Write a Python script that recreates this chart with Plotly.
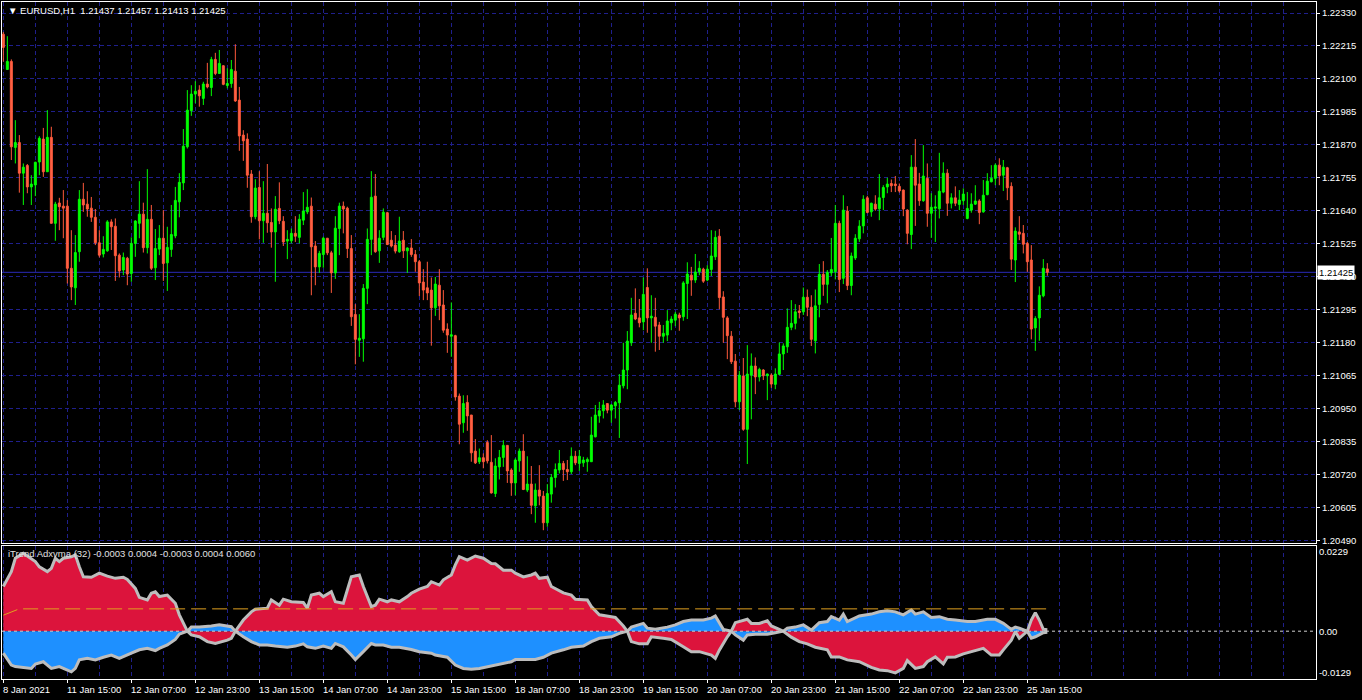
import plotly.graph_objects as go

# ---------------- data: EURUSD H1 candles ----------------
open_ = [1.22256, 1.22133, 1.22161, 1.21861, 1.21878, 1.21771, 1.21798, 1.21723, 1.21730, 1.21810,
         1.21890, 1.21776, 1.21896, 1.21596, 1.21667, 1.21656, 1.21656, 1.21439, 1.21371, 1.21497,
         1.21680, 1.21663, 1.21649, 1.21617, 1.21528, 1.21489, 1.21500, 1.21601, 1.21586, 1.21485,
         1.21433, 1.21474, 1.21421, 1.21526, 1.21596, 1.21628, 1.21511, 1.21610, 1.21441, 1.21506,
         1.21544, 1.21458, 1.21505, 1.21552, 1.21671, 1.21737, 1.21863, 1.21989, 1.22047, 1.22061,
         1.22032, 1.22082, 1.22070, 1.22168, 1.22119, 1.22146, 1.22077, 1.22084, 1.22127, 1.22026,
         1.21904, 1.21890, 1.21768, 1.21619, 1.21721, 1.21605, 1.21631, 1.21599, 1.21566, 1.21648,
         1.21603, 1.21534, 1.21535, 1.21561, 1.21547, 1.21607, 1.21636, 1.21656, 1.21517, 1.21444,
         1.21487, 1.21544, 1.21493, 1.21423, 1.21578, 1.21656, 1.21649, 1.21508, 1.21278, 1.21188,
         1.21193, 1.21369, 1.21540, 1.21691, 1.21500, 1.21547, 1.21633, 1.21537, 1.21520, 1.21497,
         1.21537, 1.21500, 1.21510, 1.21487, 1.21462, 1.21391, 1.21371, 1.21363, 1.21301, 1.21380,
         1.21311, 1.21227, 1.21202, 1.21204, 1.20993, 1.20900, 1.20971, 1.20927, 1.20801, 1.20764,
         1.20778, 1.20831, 1.20762, 1.20653, 1.20746, 1.20779, 1.20821, 1.20735, 1.20690, 1.20767,
         1.20801, 1.20665, 1.20686, 1.20610, 1.20665, 1.20644, 1.20551, 1.20651, 1.20709, 1.20735,
         1.20758, 1.20737, 1.20729, 1.20783, 1.20758, 1.20760, 1.20764, 1.20764, 1.20851, 1.20924,
         1.20942, 1.20967, 1.20944, 1.20959, 1.20970, 1.21029, 1.21084, 1.21179, 1.21282, 1.21266,
         1.21252, 1.21372, 1.21266, 1.21268, 1.21241, 1.21202, 1.21206, 1.21249, 1.21258, 1.21276,
         1.21270, 1.21386, 1.21415, 1.21398, 1.21427, 1.21436, 1.21398, 1.21435, 1.21479, 1.21551,
         1.21339, 1.21266, 1.21202, 1.21115, 1.20973, 1.21063, 1.20877, 1.21066, 1.21098, 1.21060,
         1.21084, 1.21064, 1.21066, 1.21034, 1.21069, 1.21140, 1.21165, 1.21233, 1.21247, 1.21290,
         1.21287, 1.21338, 1.21303, 1.21186, 1.21313, 1.21418, 1.21383, 1.21423, 1.21427, 1.21596,
         1.21404, 1.21639, 1.21379, 1.21475, 1.21542, 1.21587, 1.21685, 1.21636, 1.21663, 1.21647,
         1.21686, 1.21723, 1.21735, 1.21733, 1.21725, 1.21712, 1.21642, 1.21557, 1.21792, 1.21733,
         1.21675, 1.21753, 1.21631, 1.21649, 1.21647, 1.21705, 1.21771, 1.21666, 1.21685, 1.21662,
         1.21675, 1.21613, 1.21642, 1.21663, 1.21674, 1.21636, 1.21696, 1.21741, 1.21753, 1.21799,
         1.21764, 1.21790, 1.21725, 1.21468, 1.21566, 1.21561, 1.21526, 1.21468, 1.21231, 1.21266,
         1.21343, 1.21437]
high = [1.22264, 1.22249, 1.22168, 1.21956, 1.21904, 1.21805, 1.21803, 1.21764, 1.21811, 1.21900,
        1.21929, 1.21991, 1.21933, 1.21671, 1.21685, 1.21712, 1.21677, 1.21572, 1.21555, 1.21712,
        1.21737, 1.21708, 1.21688, 1.21646, 1.21572, 1.21551, 1.21607, 1.21610, 1.21613, 1.21491,
        1.21494, 1.21479, 1.21547, 1.21607, 1.21743, 1.21668, 1.21785, 1.21660, 1.21576, 1.21590,
        1.21642, 1.21584, 1.21660, 1.21723, 1.21771, 1.21925, 1.22061, 1.22078, 1.22092, 1.22078,
        1.22090, 1.22156, 1.22177, 1.22191, 1.22201, 1.22148, 1.22137, 1.22166, 1.22221, 1.22072,
        1.21921, 1.21910, 1.21782, 1.21750, 1.21778, 1.21743, 1.21803, 1.21648, 1.21691, 1.21739,
        1.21621, 1.21572, 1.21578, 1.21621, 1.21628, 1.21705, 1.21715, 1.21686, 1.21534, 1.21500,
        1.21549, 1.21545, 1.21500, 1.21621, 1.21668, 1.21672, 1.21654, 1.21555, 1.21314, 1.21279,
        1.21384, 1.21578, 1.21778, 1.21768, 1.21572, 1.21648, 1.21636, 1.21569, 1.21555, 1.21619,
        1.21569, 1.21512, 1.21541, 1.21503, 1.21468, 1.21436, 1.21462, 1.21407, 1.21409, 1.21436,
        1.21363, 1.21247, 1.21320, 1.21207, 1.21002, 1.20996, 1.20996, 1.20927, 1.20843, 1.20810,
        1.20793, 1.20839, 1.20857, 1.20776, 1.20805, 1.20839, 1.20822, 1.20741, 1.20776, 1.20810,
        1.20860, 1.20783, 1.20749, 1.20688, 1.20752, 1.20662, 1.20686, 1.20721, 1.20758, 1.20805,
        1.20767, 1.20770, 1.20814, 1.20802, 1.20805, 1.20781, 1.20779, 1.20921, 1.20962, 1.20973,
        1.20979, 1.20967, 1.20965, 1.20976, 1.21070, 1.21179, 1.21220, 1.21336, 1.21369, 1.21332,
        1.21407, 1.21439, 1.21345, 1.21336, 1.21252, 1.21241, 1.21293, 1.21272, 1.21287, 1.21284,
        1.21394, 1.21460, 1.21444, 1.21489, 1.21464, 1.21441, 1.21450, 1.21572, 1.21570, 1.21576,
        1.21359, 1.21272, 1.21220, 1.21140, 1.21081, 1.21126, 1.21171, 1.21142, 1.21128, 1.21092,
        1.21087, 1.21072, 1.21072, 1.21090, 1.21180, 1.21177, 1.21299, 1.21328, 1.21314, 1.21311,
        1.21372, 1.21365, 1.21345, 1.21365, 1.21454, 1.21464, 1.21433, 1.21545, 1.21660, 1.21605,
        1.21694, 1.21656, 1.21494, 1.21558, 1.21607, 1.21694, 1.21692, 1.21668, 1.21694, 1.21768,
        1.21729, 1.21755, 1.21749, 1.21761, 1.21735, 1.21714, 1.21645, 1.21834, 1.21890, 1.21772,
        1.21869, 1.21805, 1.21701, 1.21694, 1.21842, 1.21809, 1.21785, 1.21701, 1.21725, 1.21712,
        1.21718, 1.21705, 1.21701, 1.21729, 1.21680, 1.21747, 1.21771, 1.21799, 1.21805, 1.21823,
        1.21817, 1.21793, 1.21739, 1.21582, 1.21621, 1.21590, 1.21531, 1.21520, 1.21272, 1.21376,
        1.21471, 1.21457]
low = [1.22160, 1.22131, 1.21817, 1.21805, 1.21703, 1.21660, 1.21701, 1.21660, 1.21691, 1.21764,
       1.21758, 1.21776, 1.21596, 1.21535, 1.21572, 1.21544, 1.21386, 1.21328, 1.21311, 1.21462,
       1.21636, 1.21619, 1.21601, 1.21520, 1.21477, 1.21477, 1.21497, 1.21503, 1.21395, 1.21407,
       1.21415, 1.21380, 1.21392, 1.21479, 1.21544, 1.21494, 1.21491, 1.21433, 1.21398, 1.21485,
       1.21395, 1.21360, 1.21479, 1.21544, 1.21617, 1.21712, 1.21857, 1.21971, 1.22015, 1.22003,
       1.22009, 1.22067, 1.22040, 1.22113, 1.22117, 1.22078, 1.22067, 1.22069, 1.22020, 1.21849,
       1.21814, 1.21720, 1.21598, 1.21610, 1.21540, 1.21528, 1.21563, 1.21511, 1.21392, 1.21593,
       1.21517, 1.21471, 1.21526, 1.21531, 1.21526, 1.21590, 1.21628, 1.21345, 1.21380, 1.21423,
       1.21441, 1.21485, 1.21353, 1.21402, 1.21485, 1.21561, 1.21475, 1.21238, 1.21104, 1.21130,
       1.21113, 1.21314, 1.21485, 1.21493, 1.21458, 1.21537, 1.21520, 1.21512, 1.21491, 1.21493,
       1.21475, 1.21423, 1.21479, 1.21427, 1.21342, 1.21328, 1.21328, 1.21169, 1.21273, 1.21258,
       1.21214, 1.21144, 1.21130, 1.20977, 1.20825, 1.20865, 1.20872, 1.20764, 1.20756, 1.20756,
       1.20741, 1.20758, 1.20653, 1.20641, 1.20702, 1.20746, 1.20690, 1.20645, 1.20647, 1.20729,
       1.20665, 1.20658, 1.20581, 1.20551, 1.20612, 1.20525, 1.20537, 1.20621, 1.20674, 1.20723,
       1.20697, 1.20700, 1.20721, 1.20752, 1.20732, 1.20746, 1.20729, 1.20764, 1.20849, 1.20900,
       1.20915, 1.20933, 1.20900, 1.20915, 1.20847, 1.21020, 1.21017, 1.21168, 1.21258, 1.21233,
       1.21223, 1.21214, 1.21179, 1.21148, 1.21154, 1.21179, 1.21185, 1.21223, 1.21237, 1.21221,
       1.21256, 1.21262, 1.21343, 1.21388, 1.21415, 1.21388, 1.21394, 1.21412, 1.21468, 1.21296,
       1.21179, 1.21122, 1.21105, 1.20954, 1.20944, 1.20872, 1.20756, 1.20912, 1.21000, 1.21044,
       1.21049, 1.20979, 1.21022, 1.21017, 1.21066, 1.21084, 1.21144, 1.21223, 1.21226, 1.21264,
       1.21276, 1.21272, 1.21168, 1.21142, 1.21268, 1.21343, 1.21317, 1.21412, 1.21400, 1.21356,
       1.21384, 1.21363, 1.21345, 1.21468, 1.21531, 1.21561, 1.21631, 1.21619, 1.21640, 1.21607,
       1.21642, 1.21701, 1.21705, 1.21705, 1.21703, 1.21621, 1.21523, 1.21506, 1.21587, 1.21657,
       1.21671, 1.21584, 1.21545, 1.21531, 1.21613, 1.21701, 1.21622, 1.21648, 1.21656, 1.21642,
       1.21660, 1.21610, 1.21633, 1.21660, 1.21593, 1.21633, 1.21694, 1.21739, 1.21729, 1.21729,
       1.21709, 1.21677, 1.21433, 1.21391, 1.21537, 1.21491, 1.21427, 1.21191, 1.21151, 1.21186,
       1.21338, 1.21413]
close = [1.22210, 1.22161, 1.21863, 1.21878, 1.21771, 1.21792, 1.21723, 1.21733, 1.21809, 1.21893,
         1.21776, 1.21896, 1.21596, 1.21663, 1.21654, 1.21649, 1.21439, 1.21374, 1.21494, 1.21680,
         1.21660, 1.21646, 1.21617, 1.21528, 1.21485, 1.21505, 1.21601, 1.21584, 1.21483, 1.21430,
         1.21477, 1.21419, 1.21526, 1.21604, 1.21628, 1.21511, 1.21610, 1.21439, 1.21508, 1.21544,
         1.21456, 1.21512, 1.21557, 1.21676, 1.21739, 1.21865, 1.21991, 1.22047, 1.22057, 1.22041,
         1.22082, 1.22072, 1.22168, 1.22119, 1.22154, 1.22081, 1.22084, 1.22133, 1.22023, 1.21901,
         1.21884, 1.21764, 1.21619, 1.21719, 1.21605, 1.21631, 1.21598, 1.21566, 1.21645, 1.21605,
         1.21531, 1.21540, 1.21561, 1.21551, 1.21610, 1.21639, 1.21652, 1.21514, 1.21444, 1.21491,
         1.21544, 1.21493, 1.21423, 1.21579, 1.21656, 1.21646, 1.21508, 1.21270, 1.21191, 1.21195,
         1.21369, 1.21540, 1.21687, 1.21497, 1.21544, 1.21635, 1.21522, 1.21517, 1.21499, 1.21534,
         1.21500, 1.21510, 1.21487, 1.21462, 1.21388, 1.21363, 1.21353, 1.21301, 1.21384, 1.21308,
         1.21223, 1.21206, 1.21207, 1.20990, 1.20895, 1.20967, 1.20924, 1.20795, 1.20760, 1.20778,
         1.20764, 1.20767, 1.20655, 1.20749, 1.20779, 1.20821, 1.20732, 1.20690, 1.20770, 1.20801,
         1.20667, 1.20686, 1.20612, 1.20665, 1.20644, 1.20551, 1.20653, 1.20709, 1.20737, 1.20758,
         1.20737, 1.20729, 1.20783, 1.20760, 1.20783, 1.20770, 1.20772, 1.20857, 1.20927, 1.20942,
         1.20962, 1.20944, 1.20962, 1.20971, 1.21031, 1.21084, 1.21185, 1.21276, 1.21262, 1.21249,
         1.21348, 1.21266, 1.21272, 1.21237, 1.21202, 1.21212, 1.21255, 1.21262, 1.21279, 1.21266,
         1.21388, 1.21419, 1.21398, 1.21426, 1.21439, 1.21394, 1.21436, 1.21482, 1.21547, 1.21337,
         1.21268, 1.21204, 1.21113, 1.20973, 1.21066, 1.20877, 1.21070, 1.21098, 1.21060, 1.21086,
         1.21064, 1.21070, 1.21035, 1.21070, 1.21140, 1.21168, 1.21233, 1.21247, 1.21287, 1.21285,
         1.21338, 1.21303, 1.21191, 1.21308, 1.21418, 1.21383, 1.21425, 1.21435, 1.21596, 1.21400,
         1.21642, 1.21379, 1.21482, 1.21544, 1.21586, 1.21680, 1.21634, 1.21666, 1.21646, 1.21685,
         1.21721, 1.21733, 1.21727, 1.21728, 1.21709, 1.21646, 1.21561, 1.21792, 1.21729, 1.21675,
         1.21761, 1.21631, 1.21652, 1.21653, 1.21708, 1.21771, 1.21666, 1.21685, 1.21666, 1.21677,
         1.21698, 1.21648, 1.21663, 1.21674, 1.21634, 1.21694, 1.21743, 1.21753, 1.21799, 1.21762,
         1.21792, 1.21720, 1.21471, 1.21569, 1.21558, 1.21523, 1.21462, 1.21227, 1.21264, 1.21345,
         1.21439, 1.21425]
bars = list(range(len(close)))

time_labels = ["8 Jan 2021", "11 Jan 15:00", "12 Jan 07:00", "12 Jan 23:00", "13 Jan 15:00",
               "14 Jan 07:00", "14 Jan 23:00", "15 Jan 15:00", "18 Jan 07:00", "18 Jan 23:00",
               "19 Jan 15:00", "20 Jan 07:00", "20 Jan 23:00", "21 Jan 15:00", "22 Jan 07:00",
               "22 Jan 23:00", "25 Jan 15:00"]
label_bars = [16 * i for i in range(len(time_labels))]
grid_bars = list(range(0, 329, 8))

price_ticks = [1.20490, 1.20605, 1.20720, 1.20835, 1.20950, 1.21065, 1.21180, 1.21295, 1.21410,
               1.21525, 1.21640, 1.21755, 1.21870, 1.21985, 1.22100, 1.22215, 1.22330]
price_labels = ["%.5f" % p for p in price_ticks]
current_price = 1.21425
header = "\u25BC\u00a0EURUSD,H1\u00a0\u00a01.21437 1.21457 1.21413 1.21425"

# ---------------- data: iTrend Adxvma (32) ----------------
red_bar = [0, 2, 3, 5, 6, 8, 9, 11, 12, 13, 14, 15, 17, 18, 19, 20, 22, 24, 26, 28, 30, 31, 33, 34, 36,
           37, 38, 39, 41, 43, 44, 46, 47, 49, 51, 53, 56, 57, 58, 60, 62, 63, 66, 67, 69, 70, 72, 75,
           76, 77, 79, 80, 82, 83, 85, 86, 87, 89, 90, 92, 93, 94, 96, 97, 99, 101, 102, 104, 106, 107,
           109, 110, 112, 113, 114, 116, 118, 120, 122, 123, 125, 127, 128, 130, 132, 133, 134, 136,
           137, 140, 142, 143, 146, 147, 149, 152, 153, 155, 156, 157, 159, 161, 162, 165, 167, 170,
           172, 174, 177, 178, 179, 181, 182, 183, 186, 187, 189, 191, 192, 194, 195, 197, 199, 201,
           203, 206, 207, 209, 211, 214, 217, 219, 221, 223, 225, 226, 228, 230, 231, 233, 235, 236,
           238, 240, 242, 245, 247, 249, 250, 252, 253, 254, 256, 257, 258, 259, 260, 261]
red_val = [0.0120, 0.0160, 0.0196, 0.0209, 0.0202, 0.0187, 0.0173, 0.0160, 0.0169, 0.0196, 0.0187,
           0.0196, 0.0200, 0.0205, 0.0173, 0.0146, 0.0145, 0.0156, 0.0148, 0.0142, 0.0145, 0.0139,
           0.0115, 0.0091, 0.0084, 0.0102, 0.0106, 0.0093, 0.0097, 0.0075, 0.0044, 0.0000, -0.0010,
           -0.0015, -0.0028, -0.0033, -0.0024, -0.0019, 0.0000, 0.0030, 0.0052, 0.0059, 0.0062,
           0.0084, 0.0070, 0.0086, 0.0079, 0.0077, 0.0062, 0.0097, 0.0102, 0.0093, 0.0106, 0.0079,
           0.0075, 0.0111, 0.0146, 0.0151, 0.0120, 0.0066, 0.0070, 0.0086, 0.0079, 0.0084, 0.0079,
           0.0093, 0.0102, 0.0113, 0.0120, 0.0133, 0.0124, 0.0138, 0.0151, 0.0178, 0.0200, 0.0191,
           0.0202, 0.0196, 0.0182, 0.0181, 0.0164, 0.0164, 0.0156, 0.0146, 0.0151, 0.0156, 0.0142,
           0.0145, 0.0120, 0.0103, 0.0097, 0.0086, 0.0084, 0.0066, 0.0044, 0.0039, 0.0037, 0.0014,
           0.0000, -0.0028, -0.0034, -0.0034, -0.0015, -0.0019, -0.0022, -0.0042, -0.0055, -0.0055,
           -0.0064, -0.0073, -0.0051, -0.0015, 0.0000, 0.0023, 0.0032, 0.0021, 0.0021, 0.0028,
           0.0014, 0.0005, 0.0000, -0.0016, -0.0028, -0.0034, -0.0043, -0.0050, -0.0069, -0.0069,
           -0.0077, -0.0082, -0.0097, -0.0104, -0.0106, -0.0112, -0.0100, -0.0079, -0.0100, -0.0095,
           -0.0082, -0.0069, -0.0088, -0.0070, -0.0069, -0.0061, -0.0055, -0.0046, -0.0064, -0.0064,
           -0.0050, -0.0024, -0.0001, -0.0019, 0.0000, 0.0030, 0.0050, 0.0030, 0.0005, 0.0004]
blue_bar = [0, 2, 3, 5, 7, 8, 10, 11, 12, 14, 15, 17, 18, 19, 21, 23, 25, 27, 29, 30, 32, 34, 36, 38,
            39, 41, 43, 44, 46, 47, 49, 52, 54, 57, 58, 60, 62, 64, 66, 68, 71, 73, 75, 76, 78, 80,
            82, 83, 85, 87, 88, 90, 92, 93, 95, 97, 99, 102, 104, 107, 108, 111, 113, 115, 117, 119,
            122, 124, 127, 128, 131, 133, 135, 137, 140, 142, 145, 147, 149, 152, 154, 156, 157, 160,
            161, 163, 166, 168, 170, 172, 175, 177, 178, 179, 180, 182, 183, 185, 186, 188, 191, 193,
            195, 196, 198, 200, 202, 204, 206, 207, 209, 210, 211, 214, 217, 219, 221, 223, 225, 227,
            228, 230, 232, 234, 236, 238, 241, 243, 246, 248, 250, 252, 253, 254, 256, 257, 258, 260,
            261]
blue_val = [-0.0059, -0.0091, -0.0095, -0.0097, -0.0100, -0.0088, -0.0082, -0.0091, -0.0100, -0.0095,
            -0.0100, -0.0109, -0.0100, -0.0077, -0.0073, -0.0077, -0.0070, -0.0064, -0.0073, -0.0069,
            -0.0059, -0.0050, -0.0046, -0.0052, -0.0046, -0.0037, -0.0022, -0.0008, 0.0000, 0.0011,
            0.0011, 0.0014, 0.0017, 0.0012, 0.0000, -0.0015, -0.0028, -0.0037, -0.0037, -0.0040,
            -0.0043, -0.0040, -0.0034, -0.0042, -0.0046, -0.0040, -0.0046, -0.0033, -0.0042, -0.0064,
            -0.0076, -0.0055, -0.0033, -0.0037, -0.0037, -0.0043, -0.0043, -0.0049, -0.0055, -0.0059,
            -0.0064, -0.0070, -0.0091, -0.0100, -0.0102, -0.0100, -0.0094, -0.0088, -0.0082, -0.0076,
            -0.0076, -0.0076, -0.0070, -0.0059, -0.0050, -0.0043, -0.0040, -0.0028, -0.0019, -0.0015,
            -0.0006, 0.0000, 0.0011, 0.0021, 0.0008, 0.0005, 0.0011, 0.0017, 0.0026, 0.0030, 0.0030,
            0.0035, 0.0041, 0.0021, 0.0005, 0.0000, -0.0010, -0.0024, -0.0010, -0.0008, -0.0008,
            -0.0004, 0.0000, 0.0008, 0.0011, 0.0017, 0.0003, 0.0023, 0.0026, 0.0039, 0.0030, 0.0046,
            0.0026, 0.0041, 0.0046, 0.0052, 0.0055, 0.0052, 0.0044, 0.0057, 0.0046, 0.0052, 0.0037,
            0.0039, 0.0032, 0.0030, 0.0026, 0.0026, 0.0032, 0.0032, 0.0021, 0.0005, 0.0011, 0.0008,
            0.0000, -0.0019, -0.0015, -0.0004, -0.0003]
level_bar = [0, 1, 2, 3, 4, 261]
level_val = [0.0043, 0.0047, 0.0051, 0.0055, 0.0060, 0.0060]
ind_title = "iTrend Adxvma (32) -0.0003 0.0004 -0.0003 0.0004 0.0060"
ind_ticks = [0.02127, 0.0, -0.01115]
ind_labels = ["0.0229", "0.00", "-0.0129"]

# ---------------- styling ----------------
FONT = "Tahoma, Liberation Sans, Arial, sans-serif"
GRID = "#1f1f8c"
GRIDDASH = "4px,3px"
W, H = 1362, 700
ML, MR, MT, MB = 2, 46, 2, 21
plot_h = H - MT - MB
main_bottom = (H - MB - 542.5) / plot_h
ind_top = (H - MB - 545.5) / plot_h
xr = [-0.3325, 328.17]

fig = go.Figure()

fig.add_trace(go.Candlestick(
    x=bars, open=open_, high=high, low=low, close=close,
    xaxis="x", yaxis="y", whiskerwidth=0,
    increasing=dict(line=dict(color="#00ff00", width=1), fillcolor="#00ff00"),
    decreasing=dict(line=dict(color="#ff5a3c", width=1), fillcolor="#ff6347"),
    showlegend=False, hoverinfo="skip"))

# indicator fills
fig.add_trace(go.Scatter(x=red_bar, y=red_val, xaxis="x2", yaxis="y2", mode="lines",
                         line=dict(width=0, color="#dc143c"), fill="tozeroy",
                         fillcolor="#dc143c", showlegend=False, hoverinfo="skip"))
fig.add_trace(go.Scatter(x=blue_bar, y=blue_val, xaxis="x2", yaxis="y2", mode="lines",
                         line=dict(width=0, color="#1e90ff"), fill="tozeroy",
                         fillcolor="#1e90ff", showlegend=False, hoverinfo="skip"))
# indicator outlines
for xs, ys in ((red_bar, red_val), (blue_bar, blue_val)):
    fig.add_trace(go.Scatter(x=xs, y=ys, xaxis="x2", yaxis="y2", mode="lines",
                             line=dict(width=3, color="#bdbdbd"),
                             showlegend=False, hoverinfo="skip"))
fig.add_trace(go.Scatter(x=level_bar, y=level_val, xaxis="x2", yaxis="y2", mode="lines",
                         line=dict(width=1, color="#e0a020", dash="15px,6px"),
                         showlegend=False, hoverinfo="skip"))

shapes = [
    dict(type="line", xref="x domain", x0=0, x1=1, yref="y", y0=current_price, y1=current_price,
         line=dict(color="#2a2ab8", width=1), layer="below"),
    dict(type="line", xref="x2 domain", x0=0, x1=1, yref="y2", y0=0, y1=0,
         line=dict(color="#d0d0d0", width=1, dash="3px,3px"), layer="above"),
]

annotations = [
    dict(text=header, xref="paper", x=0, xanchor="left", xshift=4,
         yref="paper", y=1, yanchor="middle", yshift=-8, showarrow=False,
         font=dict(family=FONT, size=9.5, color="white")),
    dict(text=ind_title, xref="paper", x=0, xanchor="left", xshift=4,
         yref="y2 domain", y=1, yanchor="middle", yshift=-8, showarrow=False,
         font=dict(family=FONT, size=9.5, color="#e0e0e0")),
    dict(text="%.5f" % current_price, xref="paper", x=1, xanchor="left", xshift=1,
         yref="y", y=current_price, yanchor="middle", showarrow=False,
         bgcolor="white", borderpad=1, font=dict(family=FONT, size=9.5, color="black")),
]
for b, t in zip(label_bars, time_labels):
    annotations.append(dict(text=t, xref="x2", x=b, xanchor="left", xshift=-2,
                            yref="paper", y=0, yanchor="top", yshift=-3, showarrow=False,
                            font=dict(family=FONT, size=9.5, color="white")))

axis_common = dict(showline=True, mirror=True, linecolor="white", linewidth=1, zeroline=False)

fig.update_layout(
    width=W, height=H, margin=dict(l=ML, r=MR, t=MT, b=MB),
    paper_bgcolor="black", plot_bgcolor="black", showlegend=False,
    font=dict(family=FONT, size=9.5, color="white"),
    shapes=shapes, annotations=annotations, hovermode=False,
    xaxis=dict(domain=[0, 1], anchor="y", range=xr, rangeslider=dict(visible=False),
               tickmode="array", tickvals=grid_bars, showticklabels=False, ticks="",
               showgrid=True, gridcolor=GRID, griddash=GRIDDASH, gridwidth=1, **axis_common),
    yaxis=dict(domain=[main_bottom, 1], anchor="x", range=[1.204821, 1.223684], side="right",
               tickmode="array", tickvals=price_ticks, ticktext=price_labels,
               ticks="outside", ticklen=3, tickcolor="white",
               tickfont=dict(family=FONT, size=9.5, color="white"),
               showgrid=True, gridcolor=GRID, griddash=GRIDDASH, gridwidth=1, **axis_common),
    xaxis2=dict(domain=[0, 1], anchor="y2", range=xr, matches="x",
                tickmode="array", tickvals=label_bars, showticklabels=False,
                ticks="outside", ticklen=3, tickcolor="white",
                showgrid=True, gridcolor=GRID, griddash=GRIDDASH, gridwidth=1,
                minor=dict(tickmode="array", tickvals=grid_bars, showgrid=True, gridcolor=GRID,
                           griddash=GRIDDASH, gridwidth=1, ticks=""),
                **axis_common),
    yaxis2=dict(domain=[0, ind_top], anchor="x2", range=[-0.01284, 0.02302], side="right",
                tickmode="array", tickvals=ind_ticks, ticktext=ind_labels, ticks="",
                tickfont=dict(family=FONT, size=9.5, color="white"),
                showgrid=False, **axis_common),
)

fig.write_html("out.html", config={"displayModeBar": False},
               post_script="document.body.style.margin='0';document.body.style.overflow='hidden';"
                           "document.body.style.background='black';")
